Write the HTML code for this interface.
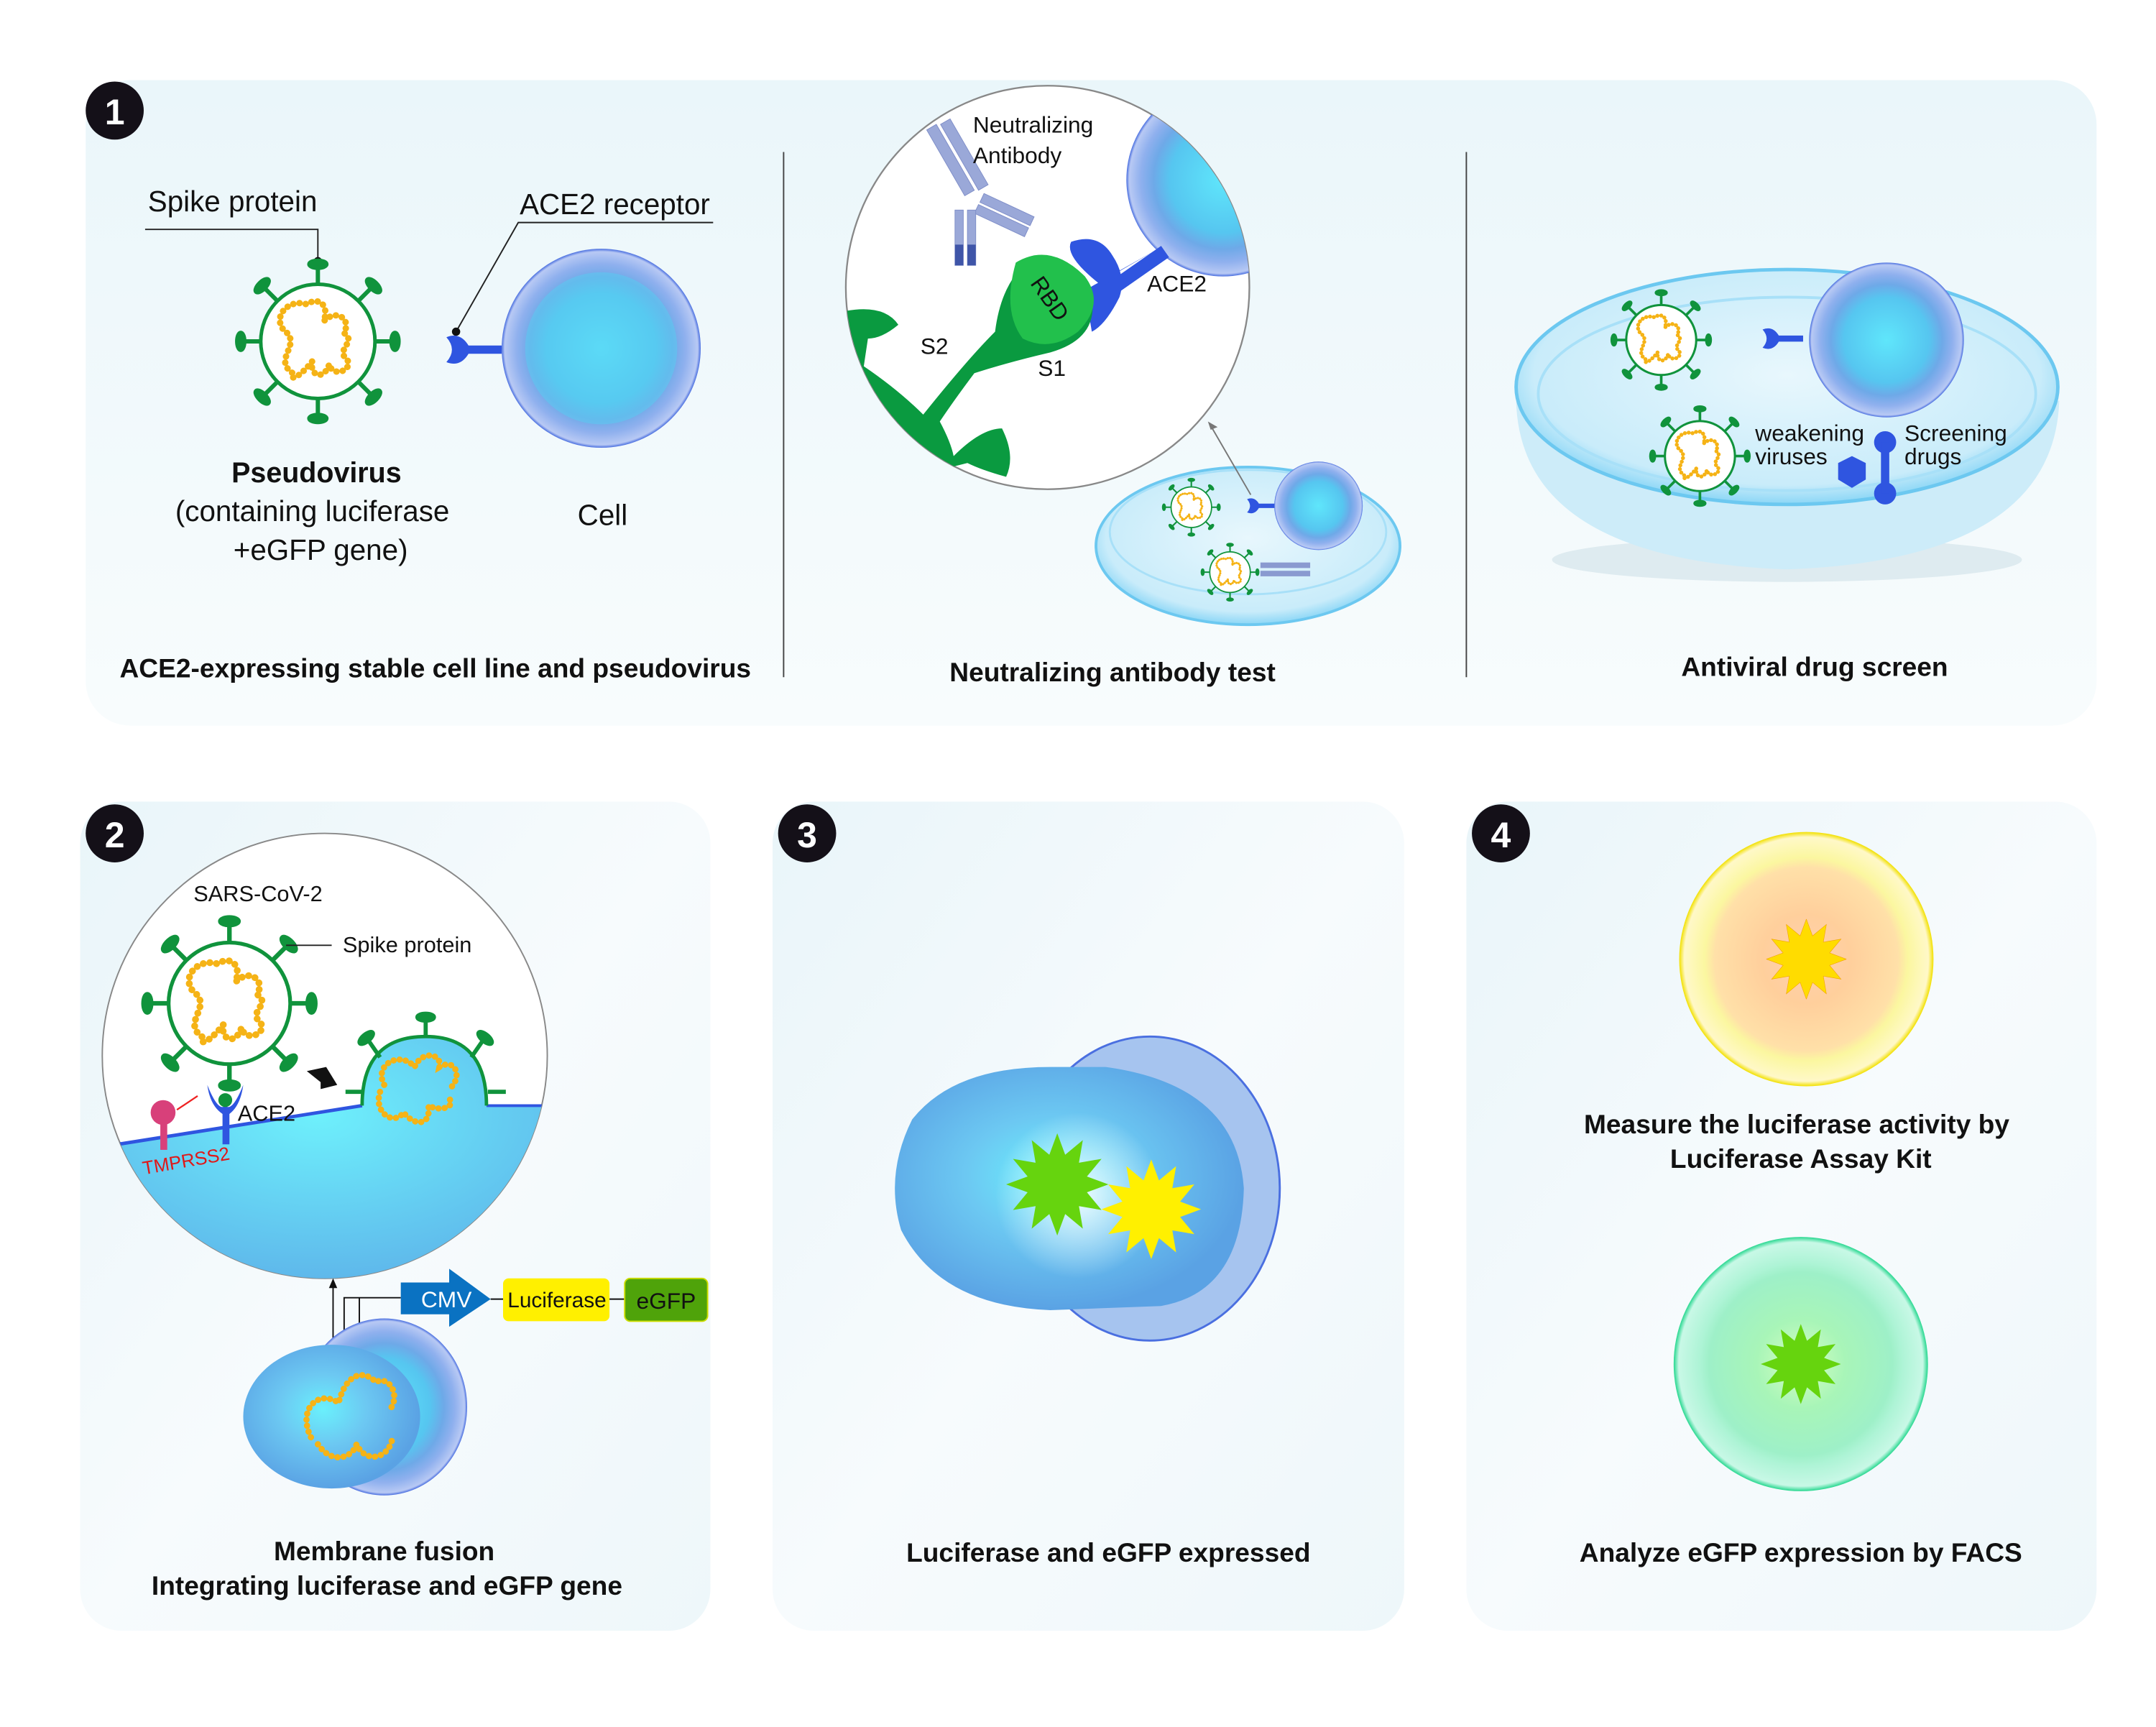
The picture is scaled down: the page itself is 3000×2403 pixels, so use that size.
<!DOCTYPE html>
<html><head><meta charset="utf-8"><style>
html,body{margin:0;padding:0;background:#fff;}
svg{display:block;}
text{font-family:"Liberation Sans",sans-serif;fill:#111;}
.b{font-weight:bold;}
</style></head><body>
<svg width="3000" height="2403" viewBox="0 0 1560 1249.6" preserveAspectRatio="none" xmlns="http://www.w3.org/2000/svg">
<defs>
<linearGradient id="pg" x1="0" y1="0" x2="0" y2="1"><stop offset="0" stop-color="#eaf6fa"/><stop offset="1" stop-color="#f8fcfd"/></linearGradient>
<linearGradient id="pg2" x1="0" y1="0" x2="1" y2="1"><stop offset="0" stop-color="#e9f5f9"/><stop offset="0.5" stop-color="#f7fbfd"/><stop offset="1" stop-color="#eef7fa"/></linearGradient>
<radialGradient id="cell" cx="0.5" cy="0.5" r="0.5"><stop offset="0" stop-color="#5fe6fb"/><stop offset="0.55" stop-color="#56c6f0"/><stop offset="0.72" stop-color="#6ea9e8"/><stop offset="0.85" stop-color="#8fb0ee"/><stop offset="0.97" stop-color="#b8c9f4"/><stop offset="1" stop-color="#4a6fe0"/></radialGradient>
<radialGradient id="cell3" cx="0.45" cy="0.45" r="0.55"><stop offset="0" stop-color="#6af0fc"/><stop offset="0.45" stop-color="#6cc8f2"/><stop offset="1" stop-color="#5aa2e4"/></radialGradient>
<radialGradient id="mem" cx="0.5" cy="0.3" r="0.8"><stop offset="0" stop-color="#6ef0fc"/><stop offset="1" stop-color="#5aa8e6"/></radialGradient>
<radialGradient id="yc" cx="0.5" cy="0.5" r="0.5"><stop offset="0" stop-color="#ffd0b0"/><stop offset="0.35" stop-color="#ffcf9c"/><stop offset="0.72" stop-color="#ffe0a8"/><stop offset="0.8" stop-color="#fbf7a0"/><stop offset="0.96" stop-color="#fff8c8"/><stop offset="1" stop-color="#f2e000"/></radialGradient>
<radialGradient id="gc" cx="0.5" cy="0.5" r="0.5"><stop offset="0" stop-color="#d8ffc0"/><stop offset="0.35" stop-color="#a8f5b8"/><stop offset="0.72" stop-color="#9ef0c8"/><stop offset="0.8" stop-color="#aef4d6"/><stop offset="0.96" stop-color="#c8f8e6"/><stop offset="1" stop-color="#28d890"/></radialGradient>
<radialGradient id="dish" cx="0.5" cy="0.45" r="0.55"><stop offset="0" stop-color="#e8f7fd"/><stop offset="0.85" stop-color="#c9ecfa"/><stop offset="1" stop-color="#8ad6f6"/></radialGradient>
<radialGradient id="glow" cx="0.5" cy="0.5" r="0.5"><stop offset="0" stop-color="#fff" stop-opacity="0.9"/><stop offset="1" stop-color="#fff" stop-opacity="0"/></radialGradient>
<symbol id="star" viewBox="-100 -100 200 200"><polygon points="100,0 58,15.5 86.6,50 42.4,42.4 50,86.6 15.5,58 0,100 -15.5,58 -50,86.6 -42.4,42.4 -86.6,50 -58,15.5 -100,0 -58,-15.5 -86.6,-50 -42.4,-42.4 -50,-86.6 -15.5,-58 0,-100 15.5,-58 50,-86.6 42.4,-42.4 86.6,-50 58,-15.5"/></symbol>
<symbol id="virus" viewBox="-60 -60 120 120">
<g stroke="#10933c" stroke-width="3" fill="#10933c">
<line x1="0" y1="-40" x2="0" y2="-53"/><line x1="28" y1="-28" x2="38" y2="-38"/><line x1="40" y1="0" x2="53" y2="0"/><line x1="28" y1="28" x2="38" y2="38"/><line x1="0" y1="40" x2="0" y2="53"/><line x1="-28" y1="28" x2="-38" y2="38"/><line x1="-40" y1="0" x2="-53" y2="0"/><line x1="-28" y1="-28" x2="-38" y2="-38"/>
<ellipse cx="0" cy="-54" rx="6" ry="2.5"/><ellipse cx="54" cy="0" rx="2.5" ry="6"/><ellipse cx="0" cy="54" rx="6" ry="2.5"/><ellipse cx="-54" cy="0" rx="2.5" ry="6"/>
<ellipse cx="39" cy="-39" rx="6" ry="2.5" transform="rotate(45 39 -39)"/><ellipse cx="39" cy="39" rx="6" ry="2.5" transform="rotate(-45 39 39)"/><ellipse cx="-39" cy="39" rx="6" ry="2.5" transform="rotate(45 -39 39)"/><ellipse cx="-39" cy="-39" rx="6" ry="2.5" transform="rotate(-45 -39 -39)"/>
</g>
<circle r="40" fill="#fff" stroke="#10933c" stroke-width="2.5"/>
<path d="M-18,22 C-32,12 -10,2 -24,-8 C-32,-18 -20,-30 -8,-26 C2,-32 8,-24 4,-14 C14,-24 24,-14 18,-6 C28,0 12,6 20,12 C26,20 10,26 8,16 C4,28 -6,24 -4,14 C-10,22 -20,30 -18,22" fill="none" stroke="#f5b316" stroke-width="4.5" stroke-linecap="round" stroke-dasharray="0.1 4.3"/>
</symbol>
<symbol id="ace" viewBox="0 0 40 30"><path d="M0,6 Q10,2 16,12 L40,12 L40,18 L16,18 Q10,28 0,24 Q8,15 0,6Z" fill="#2f55e0"/></symbol>
</defs>

<!-- Panel 1 -->
<rect x="62" y="58" width="1455" height="467" rx="32" fill="url(#pg)"/>
<line x1="567" y1="110" x2="567" y2="490" stroke="#444" stroke-width="1"/>
<line x1="1061" y1="110" x2="1061" y2="490" stroke="#444" stroke-width="1"/>
<circle cx="83" cy="80" r="21" fill="#141018"/><text x="83" y="90" text-anchor="middle" class="b" font-size="26" style="fill:#fff">1</text>

<text x="107" y="153" font-size="21">Spike protein</text>
<polyline points="105,166 230,166 230,188" fill="none" stroke="#222" stroke-width="1"/>
<circle cx="230" cy="189" r="3" fill="#111"/>
<use href="#virus" x="168" y="185" width="124" height="124"/>
<text x="376" y="155" font-size="21">ACE2 receptor</text>
<polyline points="516,161 375,161 330,240" fill="none" stroke="#222" stroke-width="1"/>
<circle cx="330" cy="240" r="3" fill="#111"/>
<use href="#ace" x="318" y="238" width="50" height="30"/>
<circle cx="435" cy="252" r="72" fill="url(#cell)"/>
<circle cx="435" cy="252" r="55" fill="#58cdf2" opacity="0.5"/>
<text x="229" y="349" text-anchor="middle" class="b" font-size="20.5">Pseudovirus</text>
<text x="226" y="377" text-anchor="middle" font-size="21">(containing luciferase</text>
<text x="232" y="405" text-anchor="middle" font-size="21">+eGFP gene)</text>
<text x="436" y="380" text-anchor="middle" font-size="21">Cell</text>
<text x="315" y="490" text-anchor="middle" class="b" font-size="19.3">ACE2-expressing stable cell line and pseudovirus</text>

<!-- middle -->
<ellipse cx="903" cy="395" rx="110" ry="57" fill="url(#dish)" stroke="#6cc8f0" stroke-width="2"/>
<ellipse cx="903" cy="385" rx="100" ry="45" fill="none" stroke="#a8e0f8" stroke-width="1.5"/>
<use href="#virus" x="840" y="345" width="44" height="44"/>
<use href="#virus" x="868" y="392" width="44" height="44"/>
<g fill="#8a9ad0"><rect x="912" y="407" width="36" height="4"/><rect x="912" y="413" width="36" height="4"/></g>
<use href="#ace" x="900" y="358" width="26" height="16"/>
<circle cx="954" cy="366" r="32" fill="url(#cell)"/>
<line x1="905" y1="358" x2="876" y2="308" stroke="#777" stroke-width="1"/>
<polygon points="874,305 881,309 876,311" fill="#777"/>
<circle cx="758" cy="208" r="146" fill="#fff" stroke="#888" stroke-width="1.2"/>
<clipPath id="c1"><circle cx="758" cy="208" r="146"/></clipPath>
<g clip-path="url(#c1)">
<circle cx="885" cy="130" r="70" fill="url(#cell)"/>
<path d="M838,180 L795,205 Q770,185 775,175 Q795,168 805,185 Q815,200 810,215 Q800,235 790,240 L785,210 Z" fill="#2f55e0"/>
<path d="M843,182 L800,212" stroke="#2f55e0" stroke-width="10"/>
<path d="M612,225 Q640,220 650,235 Q638,245 628,245 L625,265 Q650,282 668,300 Q700,260 720,240 Q725,200 750,185 Q785,195 790,215 Q795,245 760,255 Q730,262 705,270 Q690,290 680,305 Q688,320 690,330 Q710,310 725,310 Q735,330 728,345 Q710,340 700,335 L680,340 L640,300 Q620,270 612,225Z" fill="#0a9a40"/>
<path d="M735,190 Q760,175 785,200 Q800,220 780,240 Q760,255 740,245 Q725,225 735,190Z" fill="#22c04c"/>
<g fill="#9aa8d8" stroke="#7f8ec8" stroke-width="0.5"><rect x="670" y="92" width="8" height="55" transform="rotate(-30 674 92)"/><rect x="680" y="88" width="8" height="55" transform="rotate(-30 684 88)"/><rect x="712" y="140" width="40" height="7" transform="rotate(25 712 140)"/><rect x="708" y="148" width="40" height="7" transform="rotate(25 708 148)"/><rect x="691" y="152" width="6" height="40"/><rect x="700" y="152" width="6" height="40"/></g>
<g fill="#3f55a8"><rect x="691" y="177" width="6" height="15"/><rect x="700" y="177" width="6" height="15"/></g>
</g>
<text x="704" y="96" font-size="16.5">Neutralizing</text>
<text x="704" y="118" font-size="16.5">Antibody</text>
<text x="745" y="205" font-size="16.5" transform="rotate(55 745 205)">RBD</text>
<text x="830" y="211" font-size="16.5">ACE2</text>
<text x="666" y="256" font-size="16.5">S2</text>
<text x="751" y="272" font-size="16.5">S1</text>
<text x="805" y="493" text-anchor="middle" class="b" font-size="19.3">Neutralizing antibody test</text>

<!-- right -->
<ellipse cx="1293" cy="405" rx="170" ry="16" fill="#c7dce4" opacity="0.5"/>
<path d="M1097,290 Q1100,405 1293,412 Q1486,405 1490,290 Z" fill="#cdecf9"/>
<ellipse cx="1293" cy="280" rx="196" ry="85" fill="url(#dish)" stroke="#6cc8f0" stroke-width="2.5"/>
<ellipse cx="1293" cy="285" rx="180" ry="70" fill="none" stroke="#a8e0f8" stroke-width="2"/>
<use href="#virus" x="1164" y="208" width="76" height="76"/>
<use href="#virus" x="1192" y="292" width="76" height="76"/>
<use href="#ace" x="1272" y="234" width="36" height="22"/>
<circle cx="1365" cy="246" r="56" fill="url(#cell)"/>
<text x="1270" y="319" font-size="16.5">weakening</text>
<text x="1270" y="336" font-size="16.5">viruses</text>
<text x="1378" y="319" font-size="16.5">Screening</text>
<text x="1378" y="336" font-size="16.5">drugs</text>
<polygon points="1340,330 1350,335 1350,347 1340,353 1330,347 1330,335" fill="#2f55e0"/>
<circle cx="1364" cy="320" r="8" fill="#2f55e0"/><circle cx="1364" cy="357" r="8" fill="#2f55e0"/><rect x="1361" y="320" width="6" height="37" fill="#2f55e0"/>
<text x="1313" y="489" text-anchor="middle" class="b" font-size="19.3">Antiviral drug screen</text>

<!-- Panel 2 -->
<rect x="58" y="580" width="456" height="600" rx="30" fill="url(#pg2)"/>
<circle cx="83" cy="603" r="21" fill="#141018"/><text x="83" y="613" text-anchor="middle" class="b" font-size="26" style="fill:#fff">2</text>
<circle cx="235" cy="764" r="161" fill="#fff" stroke="#888" stroke-width="1"/>
<clipPath id="c2"><circle cx="235" cy="764" r="161"/></clipPath>
<g clip-path="url(#c2)">
<path d="M60,832 L262,800 Q262,750 308,750 Q352,750 352,800 L400,800 L400,940 L60,940Z" fill="url(#mem)"/>
<path d="M60,832 L262,800" stroke="#2f55e0" stroke-width="2.5"/>
<line x1="352" y1="800" x2="400" y2="800" stroke="#2f55e0" stroke-width="2"/>
<path d="M262,800 Q262,750 308,750 Q352,750 352,800" fill="none" stroke="#10933c" stroke-width="2.5"/>
</g>
<g stroke="#10933c" stroke-width="3" fill="#10933c"><line x1="308" y1="750" x2="308" y2="737"/><ellipse cx="308" cy="736" rx="6" ry="2.5"/><line x1="275" y1="765" x2="266" y2="752"/><ellipse cx="265" cy="751" rx="6" ry="2.5" transform="rotate(-40 265 751)"/><line x1="341" y1="765" x2="350" y2="752"/><ellipse cx="351" cy="751" rx="6" ry="2.5" transform="rotate(40 351 751)"/><line x1="263" y1="790" x2="250" y2="790"/><line x1="353" y1="790" x2="366" y2="790"/></g>
<path d="M278,785 C270,770 290,760 300,772 C305,760 320,762 318,772 C330,765 335,780 325,788 M275,790 C270,805 285,815 292,805 C300,815 312,815 310,800 C320,805 330,800 325,795" fill="none" stroke="#f5b316" stroke-width="4.5" stroke-linecap="round" stroke-dasharray="0.1 4.3"/>
<use href="#virus" x="100" y="660" width="132" height="132"/>
<line x1="207" y1="684" x2="322" y2="684" stroke="#222" stroke-width="1"/>
<rect x="240" y="676" width="108" height="17" fill="#fff"/>
<text x="140" y="652" font-size="16">SARS-CoV-2</text>
<text x="248" y="689" font-size="16">Spike protein</text>
<path d="M150,785 Q158,805 163,800 Q168,805 176,785 Q174,800 166,806 L166,828 L161,828 L161,806 Q152,800 150,785Z" fill="#2f55e0"/>
<circle cx="163" cy="796" r="5" fill="#10933c"/>
<circle cx="118" cy="805" r="9" fill="#d8407a"/><rect x="116" y="812" width="5" height="20" fill="#d8407a"/>
<line x1="128" y1="803" x2="143" y2="793" stroke="#e22" stroke-width="1.2"/>
<polygon points="222,775 236,772 244,785 232,788 232,783" fill="#111"/>
<text x="172" y="811" font-size="16">ACE2</text>
<text x="104" y="850" font-size="13.5" style="fill:#e01818" transform="rotate(-10 104 850)">TMPRSS2</text>
<line x1="241" y1="1010" x2="241" y2="928" stroke="#111" stroke-width="1"/><polygon points="241,925 238,932 244,932" fill="#111"/>
<polyline points="290,939 249,939 249,1000" fill="none" stroke="#111" stroke-width="1"/>
<line x1="260" y1="939" x2="260" y2="985" stroke="#111" stroke-width="1"/>
<ellipse cx="278" cy="1018" rx="60" ry="64" fill="url(#cell)"/>
<ellipse cx="240" cy="1025" rx="64" ry="52" fill="url(#cell3)"/>
<path d="M225,1040 C215,1020 230,1005 245,1015 C250,995 262,990 272,1000 C282,995 290,1010 282,1020 M230,1045 C240,1060 255,1055 258,1045 C265,1060 282,1055 284,1040" fill="none" stroke="#f5b316" stroke-width="4.5" stroke-linecap="round" stroke-dasharray="0.1 4.3"/>
<path d="M290,928 L325,928 L325,918 L355,940 L325,960 L325,951 L290,951Z" fill="#0a72c2"/>
<text x="323" y="946" text-anchor="middle" font-size="16.5" style="fill:#fff">CMV</text>
<line x1="355" y1="940" x2="364" y2="940" stroke="#111"/>
<rect x="364" y="925" width="77" height="31" rx="4" fill="#fff000"/>
<text x="403" y="946" text-anchor="middle" font-size="15.5">Luciferase</text>
<line x1="441" y1="940" x2="452" y2="940" stroke="#111"/>
<rect x="452" y="925" width="60" height="31" rx="4" fill="#4fa30a" stroke="#ccdd00"/>
<text x="482" y="947" text-anchor="middle" font-size="16.5">eGFP</text>
<text x="278" y="1129" text-anchor="middle" class="b" font-size="19.3">Membrane fusion</text>
<text x="280" y="1154" text-anchor="middle" class="b" font-size="19.3">Integrating luciferase and eGFP gene</text>

<!-- Panel 3 -->
<rect x="559" y="580" width="457" height="600" rx="30" fill="url(#pg2)"/>
<circle cx="584" cy="603" r="21" fill="#141018"/><text x="584" y="613" text-anchor="middle" class="b" font-size="26" style="fill:#fff">3</text>
<ellipse cx="832" cy="860" rx="94" ry="110" fill="#a6c4ef" stroke="#4a6fe0" stroke-width="1.5"/>
<path d="M660,810 Q690,772 760,772 L800,772 Q895,785 900,860 Q898,935 840,945 L760,948 Q680,945 652,890 Q640,850 660,810Z" fill="url(#cell3)"/>
<circle cx="780" cy="865" r="60" fill="url(#glow)"/>
<use href="#star" x="728" y="820" width="74" height="74" fill="#66d40e"/>
<use href="#star" x="797" y="839" width="72" height="72" fill="#fff000"/>
<text x="802" y="1130" text-anchor="middle" class="b" font-size="19.3">Luciferase and eGFP expressed</text>

<!-- Panel 4 -->
<rect x="1061" y="580" width="456" height="600" rx="30" fill="url(#pg2)"/>
<circle cx="1086" cy="603" r="21" fill="#141018"/><text x="1086" y="613" text-anchor="middle" class="b" font-size="26" style="fill:#fff">4</text>
<circle cx="1307" cy="694" r="92" fill="url(#yc)"/>
<use href="#star" x="1278" y="665" width="58" height="58" fill="#ffdc00" stroke="#f0a000"/>
<text x="1300" y="820" text-anchor="middle" class="b" font-size="19.3">Measure the luciferase activity by</text>
<text x="1303" y="845" text-anchor="middle" class="b" font-size="19.3">Luciferase Assay Kit</text>
<circle cx="1303" cy="987" r="92" fill="url(#gc)"/>
<use href="#star" x="1274" y="958" width="58" height="58" fill="#66d40e"/>
<text x="1303" y="1130" text-anchor="middle" class="b" font-size="19.3">Analyze eGFP expression by FACS</text>
</svg>
</body></html>
